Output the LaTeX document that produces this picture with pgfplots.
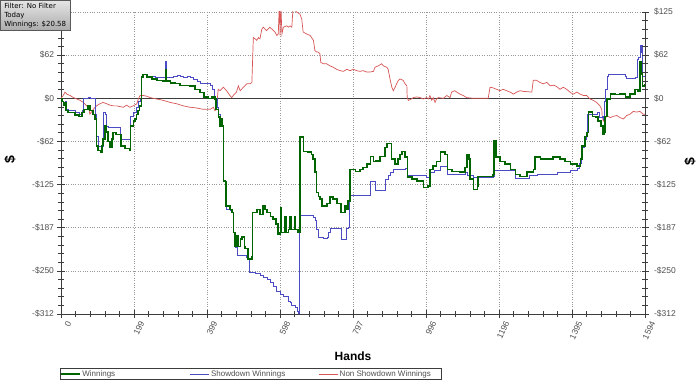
\documentclass[border=0pt]{standalone}
\usepackage{pgfplots}
\pgfplotsset{compat=1.18}
\usepackage{fontspec}
\setmainfont{Liberation Sans}
\newfontfamily\infofont{DejaVu Sans}
\definecolor{gwin}{RGB}{0,100,0}
\definecolor{bsd}{RGB}{75,75,195}
\definecolor{rnsd}{RGB}{215,85,85}
\definecolor{axgray}{RGB}{60,60,60}
\definecolor{lblgray}{RGB}{80,80,80}
\begin{document}
\begin{tikzpicture}
\path[use as bounding box] (0,0) rectangle (700bp,381bp);
\pgfplotsset{
  common/.style={
    at={(61bp,67bp)}, anchor=south west,
    width=584bp, height=302bp, scale only axis,
    xmin=0, xmax=1594, ymin=-312.5, ymax=125,
    ytick={-312.5,-250,-187.5,-125,-62.5,0,62.5,125},
    yticklabels={-\$312,-\$250,-\$187,-\$125,-\$62,\$0,\$62,\$125},
    minor y tick num=4,
    tick align=center,
    major tick length=7bp, minor tick length=6bp,
    axis line style={axgray,-, line width=0.7bp},
    tick style={axgray, line width=0.6bp},
    ticklabel style={font=\fontsize{8.5bp}{10bp}\selectfont, text=lblgray},
  }
}
\begin{axis}[common,
  axis x line*=bottom, axis y line*=left,
  xtick={0,199.25,398.5,597.75,797,996.25,1195.5,1394.75,1594},
  xticklabels={0,199,399,598,797,996,1196,1395,1594},
  minor x tick num=4,
  xticklabel style={rotate=65, anchor=east, xshift=3bp, yshift=-9bp},
  grid=major, major grid style={dotted, black!40, line width=0.6bp},
  xlabel={Hands},
  xlabel style={at={(axis description cs:0.5,-0.139)}, anchor=center, font=\fontsize{12bp}{14bp}\selectfont\bfseries},
  ylabel={\$},
  ylabel style={at={(axis description cs:-0.0873,0.51)}, anchor=center, font=\fontsize{14bp}{16bp}\selectfont\bfseries},
  legend columns=3,
  legend style={at={(axis description cs:-0.002,-0.179)}, anchor=north west, draw=axgray, line width=0.6bp,
    font=\fontsize{8bp}{9.5bp}\selectfont, inner sep=0.5bp, nodes={inner sep=1.5bp, text=lblgray}, row sep=0pt},
  legend image code/.code={\draw[#1] (0bp,0bp) -- (19bp,0bp);},
]
\addlegendimage{gwin, line width=1.2bp}
\addlegendentry{\makebox[106bp][l]{Winnings}}
\addlegendimage{bsd, line width=0.7bp}
\addlegendentry{\makebox[106bp][l]{Showdown Winnings}}
\addlegendimage{rnsd, line width=0.7bp}
\addlegendentry{\makebox[100bp][l]{Non Showdown Winnings}}

\addplot[forget plot, axgray, line width=0.7bp] coordinates {(0,0) (1594,0)};

% Non Showdown Winnings
\addplot[forget plot, rnsd, line width=0.7bp] coordinates {
(0,0)(6,4)(11,9)(16,6)(25,4)(34,1)(43,-1)(52,-3)(61,-6)(70,-11)(75,-13)(79,-23)(88,-16)(93,-13)(97,-11)
(106,-8)(115,-6)(125,-8)(134,-10)(143,-11)(152,-11)(161,-12)(170,-13)(179,-10)(188,-13)(197,-11)(207,-8)
(211,-1)(216,4)(225,4)(234,3)(243,1)(261,-1)(279,-3)(298,-6)(316,-8)(334,-11)(352,-13)(370,-14)(388,-16)
(407,-16)(416,-13)(420,-18)(425,-16)(426,-5)(429,13)(434,11)(443,16)(452,11)(461,4)(466,1)(470,4)(479,9)
(484,18)(489,11)(498,16)(507,21)(516,21)(521,23)(525,88)(530,86)(534,84)(539,88)(543,86)(548,100)(552,103)
(561,98)(570,103)(580,98)(584,96)(589,91)(593,93)(596,137)(598,91)(600,137)(603,93)(607,103)(616,105)
(621,103)(625,105)(630,103)(634,137)(639,127)(643,125)(652,122)(657,115)(661,96)(671,93)(680,91)(684,88)
(689,84)(693,69)(698,67)(702,67)(707,64)(709,52)(716,50)(725,50)(734,47)(743,45)(752,42)(762,40)(771,39)
(780,42)(789,40)(798,42)(807,40)(816,39)(825,40)(834,38)(843,38)(853,39)(857,45)(866,47)(875,50)(880,47)
(889,45)(893,42)(898,28)(903,16)(907,11)(912,16)(916,21)(921,26)(925,28)(934,26)(939,21)(944,18)(945,1)
(948,-3)(953,-2)(962,1)(971,2)(980,1)(989,-1)(998,1)(1003,-1)(1007,4)(1012,-3)(1016,1)(1021,-6)(1025,-1)
(1030,1)(1044,0)(1053,4)(1062,1)(1066,9)(1075,11)(1080,9)(1089,6)(1098,4)(1107,1)(1125,0)(1166,0)(1171,16)
(1180,15)(1189,13)(1198,11)(1207,13)(1216,11)(1226,9)(1235,6)(1244,9)(1253,11)(1262,10)(1285,9)(1289,26)
(1298,26)(1307,23)(1316,21)(1326,23)(1335,18)(1344,19)(1353,17)(1362,13)(1371,16)(1380,13)(1389,9)(1398,6)
(1408,9)(1417,6)(1426,4)(1435,4)(1444,-1)(1453,-3)(1462,-6)(1471,-11)(1476,-16)(1477,-25)(1480,-33)(1485,-30)
(1490,-25)(1499,-28)(1508,-26)(1517,-25)(1526,-28)(1535,-30)(1544,-25)(1553,-23)(1562,-19)(1571,-20)(1580,-19)
(1589,-23)(1594,-23)};

% Showdown Winnings
\addplot[forget plot, bsd, line width=0.7bp, const plot] coordinates {
(0,0)(3,-5)(7,-10)(11,-5)(14,-16)(19,-18)(30,-18)(38,-21)(49,-23)(57,-18)(61,0)(74,1)(79,0)(90,0)(94,-23)
(97,-55)(101,-69)(113,-69)(115,-20)(120,-23)(124,-40)(128,-42)(153,-42)(161,-59)(188,-59)(190,-26)(197,-20)
(207,-13)(210,-5)(216,-1)(220,31)(224,34)(235,32)(257,31)(284,31)(286,54)(287,31)(298,30)(306,32)(317,33)
(325,32)(333,31)(344,32)(352,31)(360,28)(371,25)(379,22)(393,21)(407,19)(412,18)(414,13)(419,0)(423,0)
(426,-13)(429,-23)(434,-40)(437,-30)(440,-40)(443,-120)(448,-127)(450,-161)(461,-163)(467,-165)(470,-194)
(475,-216)(480,-228)(505,-230)(510,-233)(513,-252)(530,-253)(543,-256)(551,-259)(562,-262)(571,-266)
(579,-273)(589,-279)(598,-284)(606,-287)(620,-294)(625,-296)(629,-300)(639,-303)(644,-308)(647,-330)
(651,-170)(688,-172)(693,-177)(698,-190)(702,-201)(715,-203)(726,-201)(729,-194)(734,-189)(762,-189)
(764,-204)(775,-204)(778,-189)(783,-187)(787,-141)(835,-141)(843,-120)(854,-120)(857,-134)(882,-134)
(884,-117)(893,-112)(898,-107)(906,-103)(941,-101)(944,-112)(996,-114)(1007,-107)(1018,-104)(1035,-98)
(1051,-98)(1054,-110)(1103,-107)(1108,-111)(1125,-114)(1179,-113)(1182,-105)(1234,-105)(1240,-116)
(1272,-116)(1277,-112)(1299,-110)(1354,-107)(1390,-104)(1408,-101)(1414,-94)(1419,-81)(1422,-71)
(1428,-59)(1433,-52)(1436,-49)(1437,-23)(1461,-23)(1463,-20)(1469,-27)(1477,-26)(1480,-30)(1482,-5)
(1485,13)(1490,32)(1493,34)(1540,32)(1543,29)(1567,31)(1572,57)(1575,60)(1580,76)(1582,66)(1585,76)
(1588,32)(1594,38)};

% Winnings
\addplot[forget plot, gwin, line width=1.3bp, const plot] coordinates {
(0,0)(3,-5)(7,-10)(11,-7)(14,-18)(19,-21)(30,-21)(38,-24)(49,-26)(57,-21)(63,-16)(74,-11)(79,-18)(87,-23)
(93,-30)(96,-69)(101,-76)(109,-78)(112,-68)(115,-59)(120,-40)(123,-49)(128,-63)(134,-71)(139,-59)(142,-50)
(150,-52)(161,-52)(164,-69)(175,-73)(188,-75)(190,-40)(197,-33)(202,-30)(207,-23)(210,-18)(214,-11)(220,31)
(224,34)(235,31)(248,28)(262,26)(278,25)(284,25)(286,42)(287,25)(298,22)(311,21)(325,19)(338,19)(352,18)
(366,13)(379,8)(390,2)(401,0)(412,2)(420,-1)(423,-16)(429,-27)(434,-40)(437,-30)(440,-40)(443,-120)
(448,-121)(450,-156)(461,-161)(467,-165)(470,-194)(475,-214)(480,-199)(483,-215)(489,-204)(494,-201)
(500,-215)(502,-218)(510,-233)(521,-230)(523,-165)(530,-165)(535,-161)(543,-168)(551,-156)(557,-161)
(562,-165)(571,-171)(579,-175)(587,-182)(592,-197)(598,-194)(600,-158)(601,-194)(606,-194)(611,-171)
(614,-194)(620,-190)(625,-171)(630,-190)(639,-171)(641,-190)(647,-194)(652,-55)(658,-56)(661,-77)
(672,-78)(683,-81)(688,-88)(693,-107)(698,-136)(702,-142)(707,-146)(712,-156)(726,-152)(734,-143)
(742,-146)(753,-152)(764,-165)(770,-165)(775,-156)(781,-161)(783,-149)(789,-103)(803,-106)(816,-103)
(824,-100)(835,-95)(844,-84)(852,-92)(860,-91)(871,-84)(884,-71)(890,-66)(898,-66)(903,-88)(912,-95)
(920,-88)(925,-81)(931,-77)(939,-85)(945,-114)(958,-117)(972,-120)(983,-120)(989,-129)(1002,-127)
(1007,-103)(1015,-98)(1024,-92)(1035,-78)(1048,-81)(1054,-103)(1067,-106)(1089,-107)(1103,-100)
(1108,-81)(1114,-88)(1116,-117)(1125,-132)(1136,-127)(1138,-113)(1157,-113)(1179,-110)(1182,-62)
(1187,-85)(1198,-92)(1212,-95)(1226,-103)(1240,-110)(1253,-113)(1272,-107)(1289,-103)(1294,-85)
(1308,-88)(1327,-88)(1343,-85)(1362,-88)(1376,-92)(1390,-95)(1408,-98)(1417,-88)(1422,-69)(1430,-55)
(1436,-50)(1439,-20)(1450,-26)(1458,-27)(1466,-33)(1474,-40)(1479,-52)(1483,-49)(1485,-26)(1490,-1)
(1499,6)(1512,5)(1526,6)(1540,2)(1553,6)(1567,13)(1575,10)(1580,53)(1583,35)(1588,18)(1594,21)};
\end{axis}

\begin{axis}[common,
  axis x line=none, axis y line*=right,
  xtick=\empty, xticklabels={},
  ylabel={\$},
  ylabel style={at={(axis description cs:1.077,0.503)}, anchor=center, font=\fontsize{14bp}{16bp}\selectfont\bfseries},
  yticklabel style={anchor=west, xshift=2bp},
]
\end{axis}

\node[draw=black!65, top color=gray!20, bottom color=gray!65, anchor=north west, inner sep=1.5bp,
  align=left, font=\infofont\fontsize{7bp}{9bp}\selectfont, minimum width=70bp, minimum height=30bp]
  at (0,381bp) {Filter: No Filter\\Today\\Winnings: \$20.58};
\end{tikzpicture}
\end{document}
